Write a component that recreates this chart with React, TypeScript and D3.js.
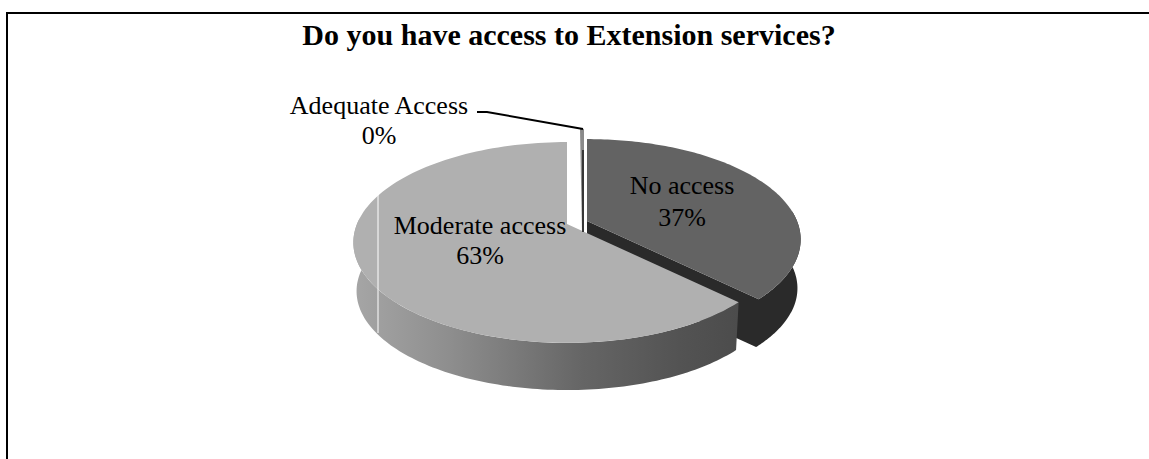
import React from "react";
import * as d3 from "d3";

const chartTitle = "Do you have access to Extension services?";
const categories = ["No access", "Moderate access", "Adequate Access"];
const shares = [37, 63, 0];
const shareLabels = ["37%", "63%", "0%"];

const WIDTH = 1149;
const HEIGHT = 459;
const SERIF = "'Liberation Serif', 'Times New Roman', serif";

// Perspective disc: the rim is a circle seen through a simple homography.
const RX = 210;
const RY = 97;
const TILT = 0.184;
const DEPTH = 49;
const BOTTOM_SCALE = 0.985;
// The seam between the two large slices sits slightly past its nominal angle.
const SEAM_NUDGE = 0.025;

type Pt = [number, number];

function rimPoint(cx: number, cy: number, angle: number, scale = 1, drop = 0): Pt {
  const X = Math.sin(angle);
  const Y = Math.cos(angle);
  const w = 1 + TILT * Y;
  return [cx + (scale * RX * X) / w, cy - (scale * RY * Y) / w + drop];
}

function rimArc(cx: number, cy: number, a0: number, a1: number, scale = 1, drop = 0): Pt[] {
  return d3.range(0, 121).map((i) => rimPoint(cx, cy, a0 + ((a1 - a0) * i) / 120, scale, drop));
}

const line = d3.line<Pt>();

export default function App() {
  const arcs = d3.pie<number>().sort(null).value((d) => d)(shares);
  const [noAccess, moderate] = arcs;
  const seam = noAccess.endAngle + SEAM_NUDGE;

  // Slice apexes, pulled apart from the middle of the disc.
  const noC: Pt = [587, 221];
  const modC: Pt = [567, 224];

  const noTop = line([noC, ...rimArc(noC[0], noC[1], noAccess.startAngle, seam)])! + "Z";
  // Rim wall and cut face share one outline so no seam shows between them.
  const noDark =
    line([
      ...rimArc(noC[0], noC[1], Math.PI / 2 - 0.1, seam),
      noC,
      [noC[0], noC[1] + DEPTH],
      ...rimArc(noC[0], noC[1], seam, Math.PI / 2 - 0.1, BOTTOM_SCALE, DEPTH),
    ])! + "Z";

  const modTop = line([modC, ...rimArc(modC[0], modC[1], seam, moderate.endAngle)])! + "Z";
  const modSide =
    line([
      ...rimArc(modC[0], modC[1], seam, 1.5 * Math.PI + 0.06),
      ...rimArc(modC[0], modC[1], seam, 1.5 * Math.PI + 0.06, BOTTOM_SCALE, DEPTH).reverse(),
    ])! + "Z";

  const gradId = "moderate-side";
  const labelStyle = { fontFamily: SERIF, fontSize: 26, fill: "#000" };

  return (
    <svg
      width={WIDTH}
      height={HEIGHT}
      viewBox={`0 0 ${WIDTH} ${HEIGHT}`}
      style={{ position: "absolute", left: 0, top: 0, background: "#fff" }}
    >
      <defs>
        <linearGradient id={gradId} gradientUnits="userSpaceOnUse" x1={353} x2={737} y1={0} y2={0}>
          <stop offset="0" stopColor="#a6a6a6" />
          <stop offset="0.25" stopColor="#8e8e8e" />
          <stop offset="0.6" stopColor="#656565" />
          <stop offset="0.85" stopColor="#535353" />
          <stop offset="1" stopColor="#4c4c4c" />
        </linearGradient>
      </defs>

      {/* Outer frame: left and top edges only */}
      <path d="M7,459V13H1149" fill="none" stroke="#000" strokeWidth={2} />

      <text x={569} y={45} textAnchor="middle" fontFamily={SERIF} fontSize={30} fontWeight="bold" fill="#000">
        {chartTitle}
      </text>

      {/* No access slice */}
      <path d={noDark} fill="#2a2a2a" />
      <path d={noTop} fill="#636363" />

      {/* Moderate access slice */}
      <path d={modSide} fill={`url(#${gradId})`} />
      <path d={modTop} fill="#b0b0b0" />
      <line x1={378} x2={378} y1={195} y2={333} stroke="#fff" strokeWidth={1} />

      {/* Adequate access sliver and its leader */}
      <path d="M580,129H584V232H582Z" fill="#8a8a8a" />
      <path d="M477,112H487L583,129" fill="none" stroke="#000" strokeWidth={2} />
      <path d="M583,150V232" fill="none" stroke="#000" strokeWidth={1.2} />

      <text x={682} y={194} textAnchor="middle" style={labelStyle}>{categories[0]}</text>
      <text x={682} y={226} textAnchor="middle" style={labelStyle}>{shareLabels[0]}</text>
      <text x={480} y={234} textAnchor="middle" style={labelStyle}>{categories[1]}</text>
      <text x={480} y={264} textAnchor="middle" style={labelStyle}>{shareLabels[1]}</text>
      <text x={379} y={114} textAnchor="middle" style={labelStyle}>{categories[2]}</text>
      <text x={379} y={144} textAnchor="middle" style={labelStyle}>{shareLabels[2]}</text>
    </svg>
  );
}
